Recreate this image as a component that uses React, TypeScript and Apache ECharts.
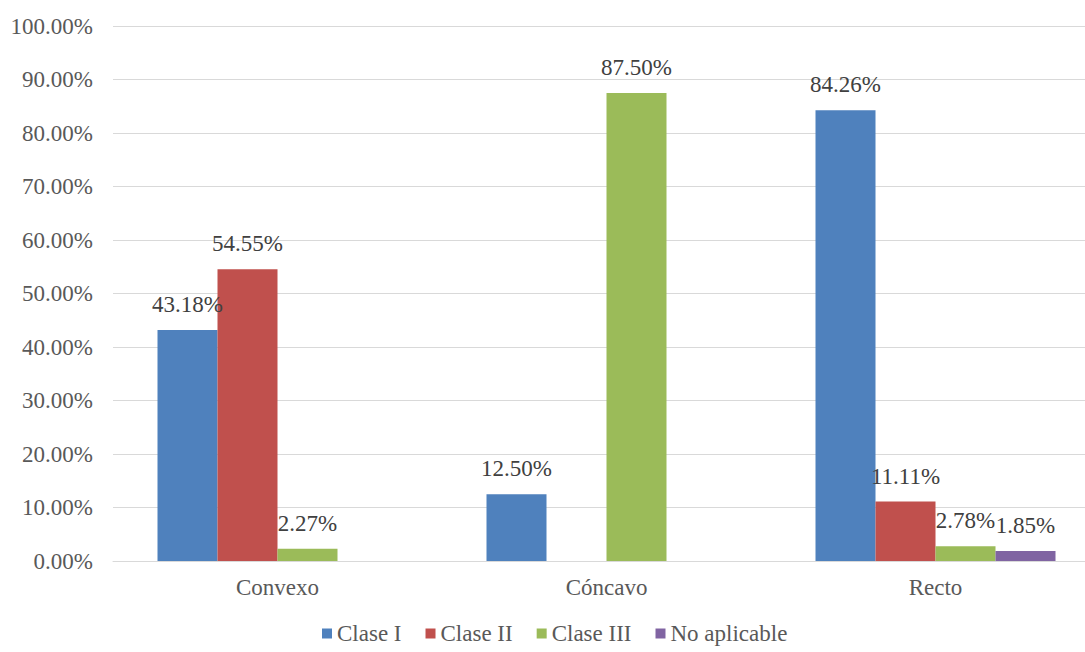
import React, { useEffect, useRef } from "react";
import * as echarts from "echarts";

const categories = ["Convexo", "Cóncavo", "Recto"];
const seriesNames = ["Clase I", "Clase II", "Clase III", "No aplicable"];
const claseI = [43.18, 12.5, 84.26];
const claseII = [54.55, 0, 11.11];
const claseIII = [2.27, 87.5, 2.78];
const noAplicable = [0, 0, 1.85];
const colors = ["#4F81BD", "#C0504D", "#9BBB59", "#8064A2"];
const yTicks = [0, 10, 20, 30, 40, 50, 60, 70, 80, 90, 100];

const FONT = "Liberation Serif";
const FS = 23;

export default function App() {
  const ref = useRef<HTMLDivElement>(null);
  useEffect(() => {
    document.body.style.margin = "0";
    if (!ref.current) return;
    const chart = echarts.init(ref.current, undefined, { renderer: "svg" });
    const data = [claseI, claseII, claseIII, noAplicable];
    const txt = (color: string) => ({ fontFamily: FONT, fontSize: FS, color });
    chart.setOption({
      animation: false,
      textStyle: { fontFamily: FONT, fontSize: FS },
      grid: { left: 113, right: 0, top: 26, bottom: 91 },
      legend: {
        bottom: 2,
        left: 317,
        itemWidth: 10,
        itemHeight: 10,
        itemGap: 24,
        icon: "rect",
        textStyle: { ...txt("#595959"), rich: { t: txt("#595959") } },
        formatter: (n: string) => "{t|" + n + "}",
        data: seriesNames,
      },
      xAxis: {
        type: "category",
        data: categories,
        axisTick: { show: false },
        axisLine: { lineStyle: { color: "#D9D9D9" } },
        axisLabel: {
          ...txt("#595959"),
          margin: 15,
          formatter: (v: string) => "{t|" + v + "}",
          rich: { t: txt("#595959") },
        },
      },
      yAxis: {
        type: "value",
        min: yTicks[0],
        max: yTicks[yTicks.length - 1],
        interval: 10,
        axisLine: { show: false },
        axisTick: { show: false },
        splitLine: { lineStyle: { color: "#D9D9D9" } },
        axisLabel: {
          ...txt("#595959"),
          margin: 20,
          formatter: (v: number) => "{t|" + v.toFixed(2) + "%}",
          rich: { t: txt("#595959") },
        },
      },
      series: seriesNames.map((name, i) => ({
        name,
        type: "bar",
        barWidth: 60,
        barGap: "0%",
        itemStyle: { color: colors[i] },
        label: {
          show: true,
          position: "top",
          distance: 14,
          ...txt("#404040"),
          rich: { t: txt("#404040") },
          formatter: (p: any) => (p.value > 0 ? "{t|" + p.value.toFixed(2) + "%}" : ""),
        },
        data: data[i],
      })),
    });
    return () => chart.dispose();
  }, []);
  return (
    <div style={{ width: 1085, height: 652, overflow: "hidden" }}>
      <div ref={ref} style={{ width: 1100, height: 652 }} />
    </div>
  );
}
